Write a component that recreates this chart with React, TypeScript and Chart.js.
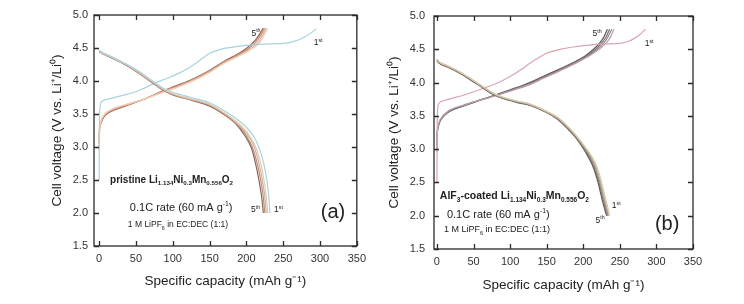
import React, { useEffect, useRef } from "react";
import { Chart, registerables } from "chart.js";
Chart.register(...registerables);

type Pt = [number, number];

const xTickValues = [0, 50, 100, 150, 200, 250, 300, 350];
const yTickValues = [1.5, 2.0, 2.5, 3.0, 3.5, 4.0, 4.5, 5.0];
const xTitle = "Specific capacity (mAh g\u207B\u00B9)";
const yTitle = "Cell voltage (V vs. Li\u207A/Li\u2070)";

// ---------- Panel (a): pristine ----------
const aCharge1: Pt[] = [[0,2.5],[0.3,3.3],[1,3.58],[3,3.68],[10,3.72],[35,3.79],[55,3.86],[74,3.96],[90,4.03],[105,4.1],[125,4.22],[140,4.34],[150,4.42],[165,4.48],[180,4.51],[200,4.54],[225,4.56],[250,4.57],[265,4.6],[280,4.67],[295,4.79]];
const aCharge2: Pt[] = [[0,2.95],[0.5,3.22],[2,3.37],[6,3.48],[15,3.56],[35,3.64],[60,3.72],[87,3.83],[105,3.9],[125,3.99],[150,4.13],[170,4.27],[190,4.38],[205,4.47],[218,4.58],[229,4.8]];
const aCharge3: Pt[] = [[0,3.0],[0.5,3.24],[2,3.36],[6,3.47],[15,3.55],[35,3.63],[60,3.72],[87,3.84],[105,3.91],[125,4.0],[150,4.14],[170,4.28],[190,4.39],[205,4.48],[217,4.6],[227,4.8]];
const aCharge4: Pt[] = [[0,3.05],[0.5,3.26],[2,3.35],[6,3.46],[15,3.54],[35,3.63],[60,3.72],[87,3.85],[105,3.92],[125,4.01],[150,4.15],[170,4.29],[190,4.4],[204,4.5],[215,4.62],[225,4.8]];
const aCharge5: Pt[] = [[0,3.1],[0.5,3.28],[2,3.35],[6,3.45],[15,3.53],[35,3.62],[60,3.72],[87,3.85],[105,3.93],[125,4.02],[150,4.16],[170,4.3],[190,4.42],[203,4.52],[213,4.63],[223,4.8]];
const aDis1: Pt[] = [[0,4.47],[2,4.45],[15,4.38],[35,4.27],[55,4.14],[74,3.99],[87,3.89],[100,3.83],[125,3.75],[150,3.67],[170,3.55],[185,3.44],[200,3.3],[212,3.12],[220,2.9],[226,2.62],[230,2.3],[232,2.0]];
const aDis2: Pt[] = [[0,4.46],[2,4.44],[15,4.37],[35,4.26],[55,4.13],[74,3.98],[87,3.88],[100,3.81],[125,3.73],[150,3.65],[170,3.52],[185,3.4],[200,3.24],[211,3.04],[218,2.82],[223,2.56],[227,2.25],[229,2.0]];
const aDis3: Pt[] = [[0,4.46],[2,4.44],[15,4.37],[35,4.26],[55,4.12],[74,3.97],[87,3.87],[100,3.8],[125,3.72],[150,3.64],[170,3.51],[185,3.38],[200,3.21],[210,3.02],[216,2.8],[221,2.54],[225,2.25],[227,2.0]];
const aDis4: Pt[] = [[0,4.45],[2,4.43],[15,4.36],[35,4.25],[55,4.12],[74,3.97],[87,3.87],[100,3.8],[125,3.72],[150,3.63],[170,3.5],[185,3.37],[199,3.19],[208,3.0],[214,2.78],[219,2.52],[223,2.24],[225,2.0]];
const aDis5: Pt[] = [[0,4.45],[2,4.43],[15,4.36],[35,4.25],[55,4.11],[74,3.96],[87,3.86],[100,3.79],[125,3.71],[150,3.62],[170,3.49],[185,3.36],[198,3.17],[207,2.98],[212,2.77],[217,2.5],[221,2.22],[223,2.0]];
const aChargeColors = ["#a8d3dd", "#f0cdb2", "#dcae93", "#bf8d78", "#9c6052"];
const aDisColors = ["#a8d3dd", "#e4ccb2", "#cfb098", "#b38f7e", "#8f6256"];

// ---------- Panel (b): AlF3-coated ----------
const bCharge1: Pt[] = [[0,2.5],[0.3,3.3],[1,3.6],[3,3.69],[10,3.73],[36,3.81],[60,3.9],[82,3.99],[100,4.09],[113,4.18],[127,4.29],[140,4.38],[150,4.44],[162,4.48],[173,4.51],[190,4.54],[205,4.56],[230,4.58],[250,4.59],[262,4.62],[275,4.7],[285,4.8]];
const bCharge2: Pt[] = [[0,2.95],[0.5,3.2],[2,3.36],[6,3.47],[15,3.57],[36,3.66],[60,3.74],[82,3.81],[100,3.87],[127,3.97],[145,4.06],[159,4.13],[173,4.2],[190,4.29],[205,4.38],[218,4.47],[228,4.56],[236,4.66],[242,4.8]];
const bCharge3: Pt[] = [[0,3.0],[0.5,3.22],[2,3.35],[6,3.46],[15,3.56],[36,3.66],[60,3.74],[82,3.81],[100,3.88],[127,3.98],[145,4.07],[159,4.14],[173,4.21],[190,4.3],[205,4.39],[217,4.48],[226,4.57],[233,4.67],[239,4.8]];
const bCharge4: Pt[] = [[0,3.05],[0.5,3.24],[2,3.35],[6,3.46],[15,3.56],[36,3.65],[60,3.74],[82,3.82],[100,3.88],[127,3.99],[145,4.08],[159,4.15],[173,4.22],[190,4.31],[205,4.4],[216,4.49],[224,4.58],[231,4.68],[236,4.8]];
const bCharge5: Pt[] = [[0,3.1],[0.5,3.26],[2,3.35],[6,3.45],[15,3.55],[36,3.65],[60,3.74],[82,3.82],[100,3.89],[127,4.0],[145,4.09],[159,4.16],[173,4.23],[190,4.32],[204,4.41],[214,4.5],[222,4.59],[228,4.68],[233,4.8]];
const bDis1: Pt[] = [[0,4.35],[2,4.32],[15,4.25],[36,4.13],[50,4.03],[60,3.96],[77,3.84],[90,3.78],[110,3.72],[127,3.68],[150,3.57],[165,3.48],[180,3.33],[190,3.21],[200,3.07],[210,2.92],[218,2.76],[224,2.55],[229,2.32],[233,2.15],[236,2.0]];
const bDis2: Pt[] = [[0,4.35],[2,4.32],[15,4.25],[36,4.13],[50,4.03],[60,3.96],[77,3.84],[90,3.78],[110,3.72],[127,3.67],[150,3.56],[165,3.47],[180,3.32],[190,3.2],[200,3.06],[210,2.9],[217,2.74],[223,2.53],[228,2.3],[232,2.13],[235,2.0]];
const bDis3: Pt[] = [[0,4.34],[2,4.31],[15,4.24],[36,4.12],[50,4.02],[60,3.95],[77,3.83],[90,3.77],[110,3.71],[127,3.67],[150,3.56],[165,3.46],[180,3.31],[190,3.19],[200,3.05],[209,2.9],[216,2.74],[222,2.53],[227,2.3],[231,2.13],[234,2.0]];
const bDis4: Pt[] = [[0,4.34],[2,4.31],[15,4.24],[36,4.12],[50,4.02],[60,3.95],[77,3.83],[90,3.77],[110,3.71],[127,3.66],[150,3.55],[165,3.45],[180,3.3],[190,3.18],[199,3.04],[208,2.89],[215,2.73],[221,2.52],[226,2.29],[230,2.12],[233,2.0]];
const bDis5: Pt[] = [[0,4.33],[2,4.3],[15,4.23],[36,4.11],[50,4.01],[60,3.94],[77,3.82],[90,3.76],[110,3.7],[127,3.66],[150,3.55],[165,3.45],[180,3.29],[190,3.17],[199,3.03],[207,2.88],[214,2.72],[220,2.51],[225,2.28],[229,2.11],[232,2.0]];
const bChargeColors = ["#d8a6ae", "#b7a2ad", "#9a8890", "#7a6c72", "#585256"];
const bDisColors = ["#d6cba9", "#bbae93", "#9c8f85", "#7c7070", "#5e5858"];

// ---------- annotations (positions in data units) ----------
type Seg = { t: string; s?: "sub" | "sup" };
type Note = { x: number; y: number; segs: Seg[]; size: number; bold?: boolean; align?: "left" | "center" };

const aNotes: Note[] = [
  { x: 14.8, y: 2.515, size: 10, bold: true, segs: [{ t: "pristine Li" }, { t: "1.134", s: "sub" }, { t: "Ni" }, { t: "0.3", s: "sub" }, { t: "Mn" }, { t: "0.556", s: "sub" }, { t: "O" }, { t: "2", s: "sub" }] },
  { x: 41.7, y: 2.09, size: 11, segs: [{ t: "0.1C rate (60 mA g" }, { t: "-1", s: "sup" }, { t: ")" }] },
  { x: 39, y: 1.83, size: 8.5, segs: [{ t: "1 M LiPF" }, { t: "6", s: "sub" }, { t: " in EC:DEC (1:1)" }] },
  { x: 317.6, y: 2.03, size: 20, align: "center", segs: [{ t: "(a)" }] },
  { x: 212.6, y: 2.06, size: 8.5, align: "center", segs: [{ t: "5" }, { t: "th", s: "sup" }] },
  { x: 243.6, y: 2.06, size: 8.5, align: "center", segs: [{ t: "1" }, { t: "st", s: "sup" }] },
  { x: 213, y: 4.73, size: 8.5, align: "center", segs: [{ t: "5" }, { t: "th", s: "sup" }] },
  { x: 297.5, y: 4.59, size: 8.5, align: "center", segs: [{ t: "1" }, { t: "st", s: "sup" }] },
];
const bNotes: Note[] = [
  { x: 4, y: 2.31, size: 10.5, bold: true, segs: [{ t: "AlF" }, { t: "3", s: "sub" }, { t: "-coated Li" }, { t: "1.134", s: "sub" }, { t: "Ni" }, { t: "0.3", s: "sub" }, { t: "Mn" }, { t: "0.556", s: "sub" }, { t: "O" }, { t: "2", s: "sub" }] },
  { x: 13.7, y: 2.03, size: 11, segs: [{ t: "0.1C rate (60 mA g" }, { t: "-1", s: "sup" }, { t: ")" }] },
  { x: 9.6, y: 1.8, size: 9, segs: [{ t: "1 M LiPF" }, { t: "6", s: "sub" }, { t: " in EC:DEC (1:1)" }] },
  { x: 314.6, y: 1.9, size: 20, align: "center", segs: [{ t: "(b)" }] },
  { x: 245, y: 2.16, size: 8.5, align: "center", segs: [{ t: "1" }, { t: "st", s: "sup" }] },
  { x: 223, y: 1.94, size: 8.5, align: "center", segs: [{ t: "5" }, { t: "th", s: "sup" }] },
  { x: 219, y: 4.74, size: 8.5, align: "center", segs: [{ t: "5" }, { t: "th", s: "sup" }] },
  { x: 290, y: 4.59, size: 8.5, align: "center", segs: [{ t: "1" }, { t: "st", s: "sup" }] },
];

const FAMILY = "'Liberation Sans', Arial, Helvetica, sans-serif";

const framePlugin = {
  id: "frameTicks",
  afterDatasetsDraw(chart: any) {
    const { ctx, chartArea: ca, scales } = chart;
    const xs = scales.x, ys = scales.y;
    ctx.save();
    ctx.strokeStyle = "#2a2a2a";
    ctx.lineWidth = 1.3;
    ctx.strokeRect(ca.left, ca.top, ca.right - ca.left, ca.bottom - ca.top);
    const L = 5;
    ctx.beginPath();
    xTickValues.forEach((v) => {
      const p = Math.round(xs.getPixelForValue(v)) + 0.5;
      ctx.moveTo(p, ca.bottom); ctx.lineTo(p, ca.bottom - L);
      ctx.moveTo(p, ca.top); ctx.lineTo(p, ca.top + L);
    });
    yTickValues.forEach((v) => {
      const p = Math.round(ys.getPixelForValue(v)) + 0.5;
      ctx.moveTo(ca.left, p); ctx.lineTo(ca.left + L, p);
      ctx.moveTo(ca.right, p); ctx.lineTo(ca.right - L, p);
    });
    ctx.stroke();
    ctx.restore();
  },
};

function makeNotesPlugin(notes: Note[]) {
  return {
    id: "notes",
    afterDraw(chart: any) {
      const { ctx, scales } = chart;
      ctx.save();
      ctx.fillStyle = "#222";
      ctx.textBaseline = "alphabetic";
      ctx.textAlign = "left";
      notes.forEach((n) => {
        const px = scales.x.getPixelForValue(n.x);
        const py = scales.y.getPixelForValue(n.y);
        const w = n.bold ? "bold " : "";
        const parts = n.segs.map((seg) => {
          const fs = seg.s ? n.size * 0.62 : n.size;
          ctx.font = `${w}${fs}px ${FAMILY}`;
          return { seg, fs, width: ctx.measureText(seg.t).width };
        });
        const total = parts.reduce((a, p) => a + p.width, 0);
        let x = n.align === "center" ? px - total / 2 : px;
        const base = py + n.size * 0.36;
        parts.forEach((p) => {
          ctx.font = `${w}${p.fs}px ${FAMILY}`;
          const dy = p.seg.s === "sub" ? n.size * 0.28 : p.seg.s === "sup" ? -n.size * 0.42 : 0;
          ctx.fillText(p.seg.t, x, base + dy);
          x += p.width;
        });
      });
      ctx.restore();
    },
  };
}

type PanelCfg = {
  left: number;
  charges: Pt[][];
  discharges: Pt[][];
  chargeColors: string[];
  disColors: string[];
  notes: Note[];
  xMin: number;
  padding: { left: number; right: number; top: number; bottom: number };
  yWidth: number;
  xHeight: number;
  yTickPad: number;
  xTickPad: number;
};

function buildConfig(cfg: PanelCfg): any {
  const datasets: any[] = [];
  cfg.discharges.forEach((d, i) => {
    datasets.push({ data: d.map(([x, y]) => ({ x, y })), borderColor: cfg.disColors[i], borderWidth: 1.2, pointRadius: 0, fill: false, cubicInterpolationMode: "monotone" });
  });
  cfg.charges.forEach((d, i) => {
    datasets.push({ data: d.map(([x, y]) => ({ x, y })), borderColor: cfg.chargeColors[i], borderWidth: 1.2, pointRadius: 0, fill: false, cubicInterpolationMode: "monotone" });
  });
  const tickFont = { family: FAMILY, size: 11 };
  const titleFont = { family: FAMILY, size: 13.5 };
  return {
    type: "line",
    data: { datasets },
    options: {
      animation: false,
      responsive: false,
      devicePixelRatio: 1,
      layout: { padding: cfg.padding },
      plugins: { legend: { display: false }, tooltip: { enabled: false } },
      scales: {
        x: {
          type: "linear",
          min: cfg.xMin,
          max: 350,
          grid: { display: false, drawTicks: false },
          border: { display: false },
          ticks: { padding: cfg.xTickPad, font: tickFont, color: "#333", autoSkip: false, maxRotation: 0 },
          afterBuildTicks: (s: any) => { s.ticks = xTickValues.map((v) => ({ value: v })); },
          afterFit: (s: any) => { s.height = cfg.xHeight; },
          title: { display: true, text: xTitle, font: titleFont, color: "#222", padding: { top: 4, bottom: 4 } },
        },
        y: {
          type: "linear",
          min: 1.5,
          max: 5.0,
          grid: { display: false, drawTicks: false },
          border: { display: false },
          ticks: { padding: cfg.yTickPad, font: tickFont, color: "#333", autoSkip: false, callback: (v: any) => Number(v).toFixed(1) },
          afterBuildTicks: (s: any) => { s.ticks = yTickValues.map((v) => ({ value: v })); },
          afterFit: (s: any) => { s.width = cfg.yWidth; },
          title: { display: true, text: yTitle, font: titleFont, color: "#222", padding: { top: 4, bottom: 4 } },
        },
      },
    },
    plugins: [framePlugin, makeNotesPlugin(cfg.notes)],
  };
}

const panelA: PanelCfg = {
  left: 0,
  charges: [aCharge1, aCharge2, aCharge3, aCharge4, aCharge5],
  discharges: [aDis1, aDis2, aDis3, aDis4, aDis5],
  chargeColors: aChargeColors,
  disColors: aDisColors,
  notes: aNotes,
  xMin: -7,
  padding: { left: 45, right: 13, top: 15, bottom: 11 },
  yWidth: 49,
  xHeight: 47,
  yTickPad: 6,
  xTickPad: 6,
};

const panelB: PanelCfg = {
  left: 372,
  charges: [bCharge1, bCharge2, bCharge3, bCharge4, bCharge5],
  discharges: [bDis1, bDis2, bDis3, bDis4, bDis5],
  chargeColors: bChargeColors,
  disColors: bDisColors,
  notes: bNotes,
  xMin: -4,
  padding: { left: 10, right: 51, top: 16, bottom: 7 },
  yWidth: 52,
  xHeight: 48,
  yTickPad: 9,
  xTickPad: 6,
};

function Panel({ cfg }: { cfg: PanelCfg }) {
  const ref = useRef<HTMLCanvasElement>(null);
  useEffect(() => {
    const chart = new Chart(ref.current as HTMLCanvasElement, buildConfig(cfg));
    return () => chart.destroy();
  }, [cfg]);
  return (
    <canvas
      ref={ref}
      width={372}
      height={304}
      style={{ position: "absolute", left: cfg.left, top: 0, width: 372, height: 304 }}
    />
  );
}

export default function App() {
  return (
    <div style={{ position: "fixed", left: 0, top: 0, width: 744, height: 304, background: "#fff", overflow: "hidden" }}>
      <Panel cfg={panelA} />
      <Panel cfg={panelB} />
    </div>
  );
}
